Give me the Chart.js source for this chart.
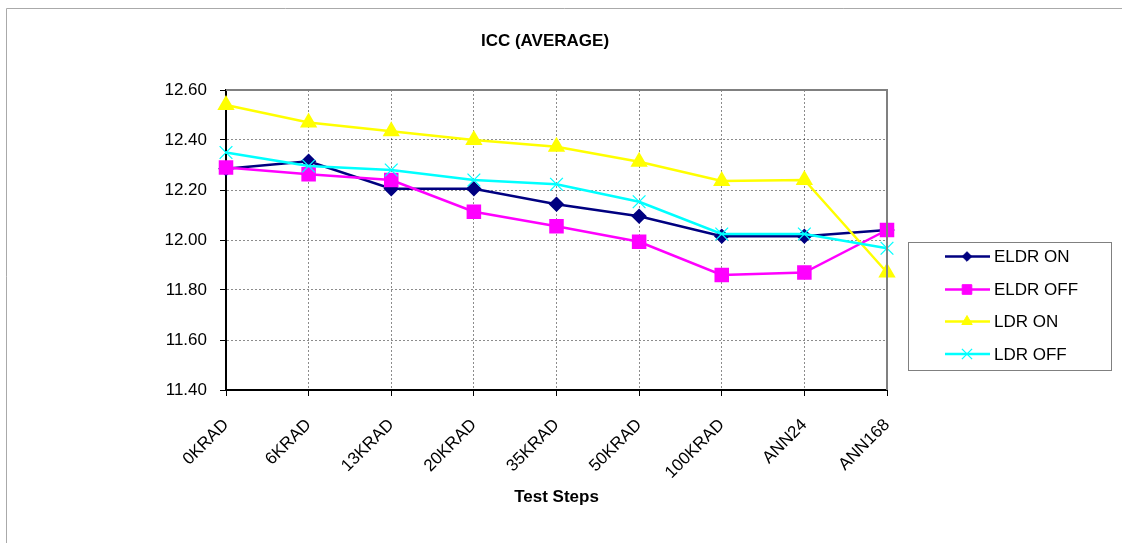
<!DOCTYPE html>
<html><head><meta charset="utf-8">
<script src="https://cdn.jsdelivr.net/npm/chart.js@4.4.1/dist/chart.umd.min.js"></script>
<style>html,body{margin:0;padding:0;background:#fff}canvas{display:block}</style>
</head><body>
<canvas id="c" width="1122" height="543"></canvas>
<script>
const categories = ['0KRAD','6KRAD','13KRAD','20KRAD','35KRAD','50KRAD','100KRAD','ANN24','ANN168'];
const eldrOn  = [12.285, 12.315, 12.205, 12.205, 12.143, 12.095, 12.015, 12.015, 12.04];
const eldrOff = [12.29, 12.263, 12.24, 12.113, 12.055, 11.993, 11.86, 11.87, 12.04];
const ldrOn   = [12.54, 12.47, 12.435, 12.40, 12.373, 12.313, 12.236, 12.24, 11.87];
const ldrOff  = [12.35, 12.296, 12.28, 12.24, 12.223, 12.153, 12.024, 12.024, 11.967];
const seriesNames = ['ELDR ON','ELDR OFF','LDR ON','LDR OFF'];
const titleText = 'ICC (AVERAGE)';
const xTitle = 'Test Steps';

const FONT = '"Liberation Sans", Arial, sans-serif';

const datasets = [
  {label: seriesNames[0], data: eldrOn, borderColor:'#000080', backgroundColor:'#000080', pointStyle:'rectRot', pointRadius:6, borderWidth:2.5, order:4},
  {label: seriesNames[1], data: eldrOff, borderColor:'#FF00FF', backgroundColor:'#FF00FF', pointStyle:'rect', pointRadius:8.5, borderWidth:2.5, order:3},
  {label: seriesNames[2], data: ldrOn, borderColor:'#FFFF00', backgroundColor:'#FFFF00', pointStyle:'triangle', pointRadius:7.5, borderWidth:2.5, order:2},
  {label: seriesNames[3], data: ldrOff, borderColor:'#00FFFF', backgroundColor:'#00FFFF', pointStyle:'crossRot', pointRadius:9, pointBorderWidth:1.3, borderWidth:2.5, order:1}
].map(d => Object.assign({tension:0, fill:false, pointHoverRadius:d.pointRadius, pointBorderColor:d.borderColor, pointBackgroundColor:d.backgroundColor}, d));

function drawMarker(ctx, ds, x, y){
  const opts = {pointStyle: ds.pointStyle, radius: ds.pointRadius, rotation: 0, borderWidth: ds.pointBorderWidth || 1};
  ctx.save();
  ctx.fillStyle = ds.backgroundColor;
  ctx.strokeStyle = ds.borderColor;
  ctx.lineWidth = opts.borderWidth;
  if (Chart.helpers && Chart.helpers.drawPoint) {
    Chart.helpers.drawPoint(ctx, opts, x, y);
  }
  ctx.restore();
}

const decor = {
  id: 'decor',
  beforeDraw(chart){
    const ctx = chart.ctx;
    ctx.save();
    ctx.strokeStyle = '#aaaaaa';
    ctx.lineWidth = 1;
    ctx.beginPath();
    ctx.moveTo(6.5, 600); ctx.lineTo(6.5, 8.5); ctx.lineTo(1200, 8.5);
    ctx.stroke();
    ctx.restore();
  },
  afterDatasetsDraw(chart){
    const ctx = chart.ctx;
    const a = chart.chartArea;
    ctx.save();
    ctx.strokeStyle = '#808080';
    ctx.lineWidth = 2;
    ctx.beginPath();
    ctx.moveTo(a.left, a.top); ctx.lineTo(a.right, a.top); ctx.lineTo(a.right, a.bottom);
    ctx.stroke();
    ctx.fillStyle = '#000';
    ctx.font = 'bold 17px ' + FONT;
    ctx.textAlign = 'center';
    ctx.textBaseline = 'middle';
    ctx.fillText(titleText, 545, 41);
    const lx = 908.5, ly = 242.5, lw = 203, lh = 128;
    ctx.fillStyle = '#fff';
    ctx.fillRect(lx, ly, lw, lh);
    ctx.strokeStyle = '#808080';
    ctx.lineWidth = 1;
    ctx.strokeRect(lx, ly, lw, lh);
    const ys = [256.5, 289.5, 321.5, 354];
    chart.data.datasets.forEach((ds, i) => {
      const y = ys[i];
      ctx.strokeStyle = ds.borderColor;
      ctx.lineWidth = 2.5;
      ctx.beginPath(); ctx.moveTo(945, y); ctx.lineTo(990, y); ctx.stroke();
      const small = Object.assign({}, ds, {pointRadius: ds.pointRadius * 0.8});
      drawMarker(ctx, small, 967, y);
      ctx.fillStyle = '#000';
      ctx.font = '17px ' + FONT;
      ctx.textAlign = 'left';
      ctx.textBaseline = 'middle';
      ctx.fillText(ds.label, 994, y + 1);
    });
    ctx.restore();
  }
};

const gridOpts = {color: 'rgba(0,0,0,0.45)', tickBorderDash: [], tickColor: '#000', tickLength: 6, lineWidth: 1};

new Chart(document.getElementById('c'), {
  type: 'line',
  data: {labels: categories, datasets},
  options: {
    responsive: false,
    animation: false,
    devicePixelRatio: 1,
    layout: {padding: {left: 0, right: 235, top: 90, bottom: 0}},
    plugins: {legend: {display: false}, title: {display: false}, tooltip: {enabled: false}},
    scales: {
      x: {
        offset: false,
        grid: gridOpts,
        border: {color: '#000', width: 2, dash: [2,2]},
        ticks: {color: '#000', font: {family: FONT, size: 17}, maxRotation: 45, minRotation: 45, padding: 19, autoSkip: false},
        title: {display: true, text: xTitle, color: '#000', font: {family: FONT, size: 17, weight: 'bold'}, padding: {top: 0, bottom: 35}},
        afterFit(s){ s.height = 153; }
      },
      y: {
        min: 11.4, max: 12.6,
        grid: gridOpts,
        border: {color: '#000', width: 2, dash: [2,2]},
        ticks: {stepSize: 0.2, color: '#000', font: {family: FONT, size: 17}, padding: 13, callback: v => Number(v).toFixed(2)},
        afterFit(s){ s.width = 226; }
      }
    }
  },
  plugins: [decor]
});
</script>
</body></html>
